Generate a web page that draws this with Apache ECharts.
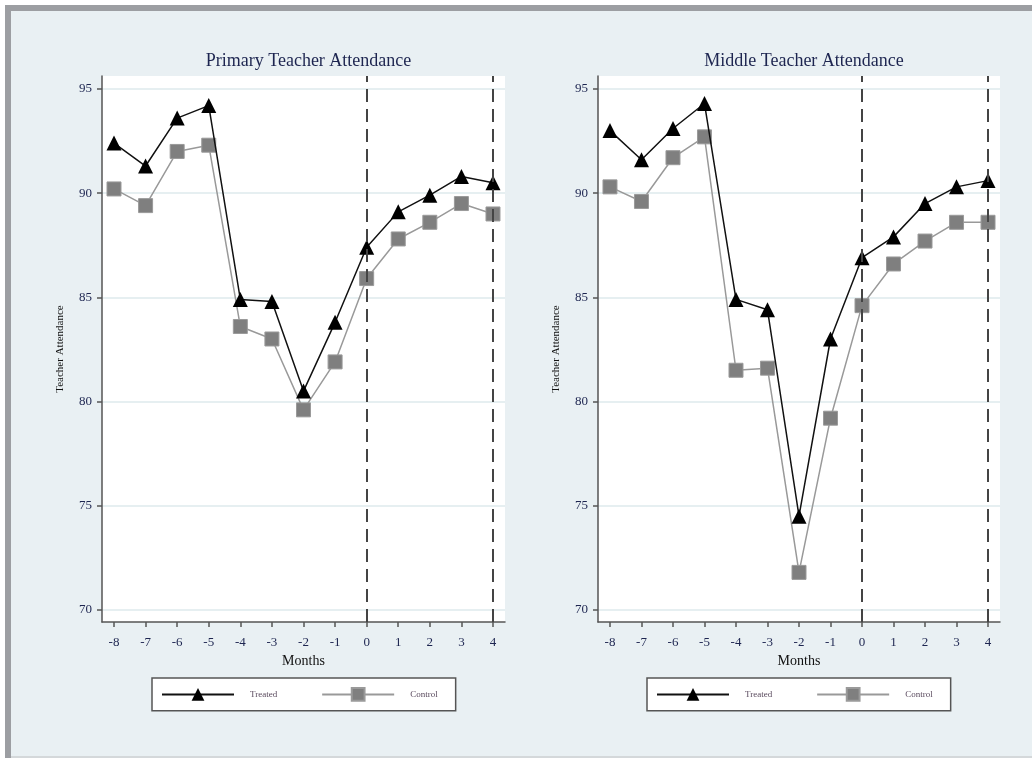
<!DOCTYPE html>
<html>
<head>
<meta charset="utf-8">
<title>Teacher Attendance</title>
<script src="https://cdn.jsdelivr.net/npm/echarts@6/dist/echarts.min.js"></script>
<style>
  html, body { margin: 0; padding: 0; background: #ffffff; }
  #chart { width: 1032px; height: 758px; }
</style>
</head>
<body>
<div id="chart"></div>
<script>
// Months relative to the start of the programme
const months = [-8, -7, -6, -5, -4, -3, -2, -1, 0, 1, 2, 3, 4];
const yTicks = [70, 75, 80, 85, 90, 95];
const refMonths = [0, 4];

const panelTitles = ['Primary Teacher Attendance', 'Middle Teacher Attendance'];
const seriesNames = ['Treated', 'Control'];

// Primary schools
const primaryTreated = [92.4, 91.3, 93.6, 94.2, 84.9, 84.8, 80.5, 83.8, 87.4, 89.1, 89.9, 90.8, 90.5];
const primaryControl = [90.2, 89.4, 92.0, 92.3, 83.6, 83.0, 79.6, 81.9, 85.9, 87.8, 88.6, 89.5, 89.0];

// Middle schools
const middleTreated = [93.0, 91.6, 93.1, 94.3, 84.9, 84.4, 74.5, 83.0, 86.9, 87.9, 89.5, 90.3, 90.6];
const middleControl = [90.3, 89.6, 91.7, 92.7, 81.5, 81.6, 71.8, 79.2, 84.6, 86.6, 87.7, 88.6, 88.6];

const FONT = '"Liberation Serif", "DejaVu Serif", serif';
const NAVY = '#1d2550';
const BG = '#e9f0f3';

const pairs = (ys) => months.map((m, i) => [m, ys[i]]);

const grids = [
  { left: 102, top: 76, width: 403, height: 546 },
  { left: 598, top: 76, width: 402, height: 546 }
];

function xAxis(i) {
  return {
    type: 'value', gridIndex: i, min: -8.38, max: 4.38,
    name: 'Months', nameLocation: 'middle', nameGap: 32,
    nameTextStyle: { fontFamily: FONT, fontSize: 14, color: '#111' },
    axisLine: { show: true, onZero: false, lineStyle: { color: '#555', width: 1.5 } },
    axisTick: { show: true, customValues: months, length: 5, lineStyle: { color: '#555', width: 1.5 } },
    axisLabel: { customValues: months, margin: 14, fontFamily: FONT, fontSize: 13, color: NAVY },
    splitLine: { show: false }
  };
}

function yAxis(i) {
  return {
    type: 'value', gridIndex: i, min: 69.42, max: 95.62,
    name: 'Teacher Attendance', nameLocation: 'middle', nameGap: 36, nameRotate: 90,
    nameTextStyle: { fontFamily: FONT, fontSize: 11, color: '#111' },
    axisLine: { show: true, onZero: false, lineStyle: { color: '#555', width: 1.5 } },
    axisTick: { show: true, customValues: yTicks, length: 5, lineStyle: { color: '#555', width: 1.5 } },
    axisLabel: { customValues: yTicks, margin: 10, fontFamily: FONT, fontSize: 13, color: NAVY },
    splitLine: { show: true, lineStyle: { color: '#e6eff1', width: 2 } }
  };
}

function treated(i, ys) {
  return {
    name: 'Treated', type: 'line', xAxisIndex: i, yAxisIndex: i, data: pairs(ys),
    symbol: 'triangle', symbolSize: 15, z: 4,
    itemStyle: { color: '#000' },
    lineStyle: { color: '#111', width: 1.5 },
    markLine: {
      silent: true, symbol: 'none', label: { show: false },
      lineStyle: { color: '#444', width: 2, type: [13, 7] },
      data: refMonths.map(m => ({ xAxis: m }))
    }
  };
}

function control(i, ys) {
  return {
    name: 'Control', type: 'line', xAxisIndex: i, yAxisIndex: i, data: pairs(ys),
    symbol: 'rect', symbolSize: 14, z: 3,
    itemStyle: { color: '#7f7f7f', borderColor: '#9a9a9a', borderWidth: 1 },
    lineStyle: { color: '#999', width: 1.5 }
  };
}

function legend(left) {
  return {
    data: seriesNames, left: left, top: 678, orient: 'horizontal',
    backgroundColor: '#fff', borderColor: '#555', borderWidth: 1.5,
    padding: [9, 18, 9, 9], itemGap: 44, itemWidth: 72, itemHeight: 16,
    selectedMode: false,
    textStyle: { fontFamily: FONT, fontSize: 9, color: '#5a4a5e', padding: [0, 0, 0, 11] }
  };
}

const chart = echarts.init(document.getElementById('chart'), null, { renderer: 'canvas' });
chart.setOption({
  animation: false,
  backgroundColor: '#ffffff',
  graphic: [
    { type: 'rect', z: -100, shape: { x: 5, y: 5, width: 1040, height: 760 }, style: { fill: '#9c9ea2' } },
    { type: 'rect', z: -99, shape: { x: 11, y: 11, width: 1040, height: 745 }, style: { fill: BG } },
    { type: 'rect', z: -99, shape: { x: 11, y: 756, width: 1040, height: 4 }, style: { fill: '#d4d8da' } }
  ],
  title: panelTitles.map((t, i) => ({
    text: t, left: grids[i].left + grids[i].width / 2, top: 47, textAlign: 'center',
    textStyle: { fontFamily: FONT, fontSize: 18, fontWeight: 'normal', color: NAVY }
  })),
  grid: grids.map(g => Object.assign({ show: true, backgroundColor: '#fff', borderWidth: 0 }, g)),
  xAxis: [xAxis(0), xAxis(1)],
  yAxis: [yAxis(0), yAxis(1)],
  legend: [legend(152), legend(647)],
  series: [
    treated(0, primaryTreated), control(0, primaryControl),
    treated(1, middleTreated), control(1, middleControl)
  ]
});
</script>
</body>
</html>
